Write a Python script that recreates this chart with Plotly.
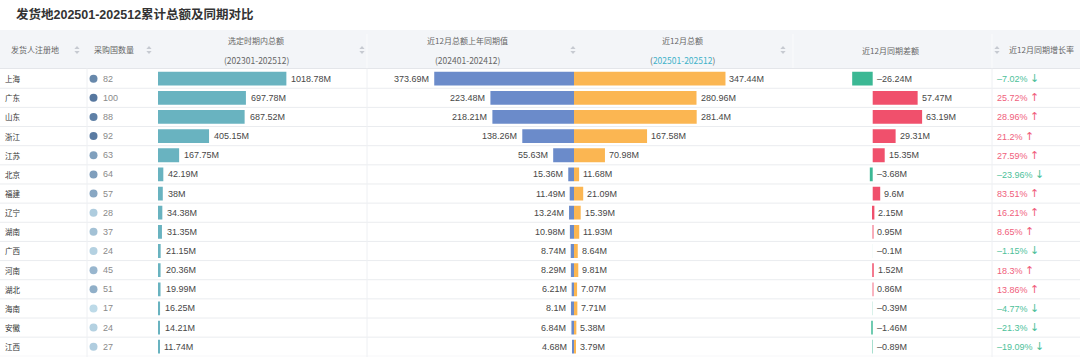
import plotly.graph_objects as go

W, H = 1080, 357

# ---------------- data ----------------
provinces = ["上海", "广东", "山东", "浙江", "江苏", "北京", "福建", "辽宁",
             "湖南", "广西", "河南", "湖北", "海南", "安徽", "江西"]
buyer_countries = [82, 100, 88, 92, 63, 64, 57, 28, 37, 24, 45, 51, 17, 24, 27]
total_selected = [1018.78, 697.78, 687.52, 405.15, 167.75, 42.19, 38, 34.38,
                  31.35, 21.15, 20.36, 19.99, 16.25, 14.21, 11.74]
prev_12m = [373.69, 223.48, 218.21, 138.26, 55.63, 15.36, 11.49, 13.24,
            10.98, 8.74, 8.29, 6.21, 8.1, 6.84, 4.68]
last_12m = [347.44, 280.96, 281.4, 167.58, 70.98, 11.68, 21.09, 15.39,
            11.93, 8.64, 9.81, 7.07, 7.71, 5.38, 3.79]
yoy_diff = [-26.24, 57.47, 63.19, 29.31, 15.35, -3.68, 9.6, 2.15,
            0.95, -0.1, 1.52, 0.86, -0.39, -1.46, -0.89]
yoy_growth = [-7.02, 25.72, 28.96, 21.2, 27.59, -23.96, 83.51, 16.21,
              8.65, -1.15, 18.3, 13.86, -4.77, -21.3, -19.09]

title_text = "发货地202501-202512累计总额及同期对比"
hdr_region = "发货人注册地"
hdr_count = "采购国数量"
hdr_total = ("选定时期内总额", "(202301-202512)")
hdr_prev = ("近12月总额上年同期值", "(202401-202412)")
hdr_last = ("近12月总额", "202501-202512")
hdr_diff = "近12月同期差额"
hdr_growth = "近12月同期增长率"

# ---------------- helpers ----------------
FONT = "Liberation Sans, Arial, Noto Sans CJK SC, sans-serif"
CJK = "Noto Sans CJK SC, Liberation Sans, sans-serif"


def PX(x):
    return x / W


def PY(y):
    return 1 - y / H


def fmt(v, unit=""):
    return f"{v:g}".replace("-", "–") + unit


ROW_TOP, ROW_BOT = 69.1, 356.3
HDR_TOP, HDR_BOT = 30.0, 68.5

TEAL = "#69b3c0"
BLUE = "#6b8bca"
ORANGE = "#fbb652"
RED = "#f0506c"
GREEN = "#3bb894"
LABEL = "#474747"


def blend(hex_color, f):
    h = hex_color.lstrip("#")
    r, g, b = int(h[0:2], 16), int(h[2:4], 16), int(h[4:6], 16)
    r = round(255 + (r - 255) * f)
    g = round(255 + (g - 255) * f)
    b = round(255 + (b - 255) * f)
    return f"rgb({r},{g},{b})"


fig = go.Figure()

# column axes: (left px, right px, range)
PPM_TOTAL = 0.126
PPM_PREV = 0.374
PPM_LAST = 0.436
PPM_DIFF = 0.782
DIFF_ZERO = 872.7
cols = {
    "xaxis": (0, 87, [0, 87]),
    "xaxis2": (87, 155, [0, 68]),
    "xaxis3": (158, 367, [0, (367 - 158) / PPM_TOTAL]),
    "xaxis4": (367, 574, [(574 - 367) / PPM_PREV, 0]),
    "xaxis5": (574, 790, [0, (790 - 574) / PPM_LAST]),
    "xaxis6": (793, 992, [-(DIFF_ZERO - 793) / PPM_DIFF, (992 - DIFF_ZERO) / PPM_DIFF]),
    "xaxis7": (992, 1080, [0, 88]),
}

# ---------------- traces ----------------
fig.add_trace(go.Scatter(
    x=[6.5] * len(provinces), y=provinces, xaxis="x2", yaxis="y",
    mode="markers",
    marker=dict(size=8, color=buyer_countries, cmin=17, cmax=95,
                colorscale=[[0, "#bddae8"], [1, "#56779f"]], line=dict(width=0)),
    hoverinfo="skip"))

fig.add_trace(go.Bar(x=total_selected, y=provinces, orientation="h",
                     xaxis="x3", yaxis="y", marker=dict(color=TEAL, line=dict(width=0)),
                     width=0.72, hoverinfo="skip"))
fig.add_trace(go.Bar(x=prev_12m, y=provinces, orientation="h",
                     xaxis="x4", yaxis="y", marker=dict(color=BLUE, line=dict(width=0)),
                     width=0.72, hoverinfo="skip"))
fig.add_trace(go.Bar(x=last_12m, y=provinces, orientation="h",
                     xaxis="x5", yaxis="y", marker=dict(color=ORANGE, line=dict(width=0)),
                     width=0.72, hoverinfo="skip"))
diff_colors = [blend(RED if v > 0 else GREEN, min(1.0, abs(v) / 2.0)) for v in yoy_diff]
fig.add_trace(go.Bar(x=yoy_diff, y=provinces, orientation="h",
                     xaxis="x6", yaxis="y", marker=dict(color=diff_colors, line=dict(width=0)),
                     width=0.72, hoverinfo="skip"))

# ---------------- value labels ----------------
ann = []
ARROW_UP = "<span style='font-family:DejaVu Sans;font-size:11px'>↑</span>"
ARROW_DN = "<span style='font-family:DejaVu Sans;font-size:11px'>↓</span>"
for i, p in enumerate(provinces):
    ann.append(dict(x=3, y=p, xref="x", yref="y", text=p, showarrow=False,
                    xanchor="left", font=dict(family=CJK, size=7.5, color="#333")))
    ann.append(dict(x=6.5, y=p, xref="x2", yref="y", text=str(buyer_countries[i]),
                    showarrow=False, xanchor="left", xshift=7,
                    font=dict(size=9, color="#8a8a8a")))
    ann.append(dict(x=total_selected[i], y=p, xref="x3", yref="y",
                    text=fmt(total_selected[i], "M"), showarrow=False,
                    xanchor="left", xshift=3, font=dict(size=9, color=LABEL)))
    ann.append(dict(x=prev_12m[i], y=p, xref="x4", yref="y",
                    text=fmt(prev_12m[i], "M"), showarrow=False,
                    xanchor="right", xshift=-3, font=dict(size=9, color=LABEL)))
    ann.append(dict(x=last_12m[i], y=p, xref="x5", yref="y",
                    text=fmt(last_12m[i], "M"), showarrow=False,
                    xanchor="left", xshift=2, font=dict(size=9, color=LABEL)))
    ann.append(dict(x=max(yoy_diff[i], 0), y=p, xref="x6", yref="y",
                    text=fmt(yoy_diff[i], "M"), showarrow=False,
                    xanchor="left", xshift=2, font=dict(size=9, color=LABEL)))
    g = yoy_growth[i]
    ann.append(dict(x=3, y=p, xref="x7", yref="y",
                    text=fmt(g, "%") + " " + (ARROW_UP if g > 0 else ARROW_DN), showarrow=False,
                    xanchor="left", font=dict(size=9, color="#f0607c" if g > 0 else "#4dbf9a")))

# ---------------- header texts ----------------
HC = "#666"


def htext(x, y, t, anchor="center", size=8, color=HC):
    ann.append(dict(x=PX(x), y=PY(y), xref="paper", yref="paper", text=t,
                    showarrow=False, xanchor=anchor, yanchor="middle",
                    font=dict(family=CJK, size=size, color=color)))


ann.append(dict(x=PX(14), y=PY(15), xref="paper", yref="paper", text="<b>" + title_text + "</b>",
                showarrow=False, xanchor="left", yanchor="middle",
                font=dict(family=FONT, size=12.5, color="#333")))
htext(9, 50, hdr_region, "left")
htext(92, 50, hdr_count, "left")
htext(256, 40, hdr_total[0])
htext(256, 60, hdr_total[1], size=8.5)
htext(467, 40, hdr_prev[0])
htext(467, 60, hdr_prev[1], size=8.5)
htext(682, 40, hdr_last[0])
htext(682, 60, "(<span style='color:#3fb2c9'>" + hdr_last[1] + "</span>)", size=8.5)
htext(890, 51, hdr_diff)
htext(1007, 50, hdr_growth, "left")

# ---------------- shapes ----------------
shapes = []
shapes.append(dict(type="rect", xref="paper", yref="paper", x0=0, x1=1,
                   y0=PY(HDR_BOT), y1=PY(HDR_TOP), fillcolor="#f3f5f8",
                   line=dict(width=0), layer="below"))
for xs in (367, 793, 992):
    shapes.append(dict(type="line", xref="paper", yref="paper", x0=PX(xs), x1=PX(xs),
                       y0=PY(HDR_BOT), y1=PY(HDR_TOP + 4), line=dict(color="#fafbfc", width=1),
                       layer="below"))
shapes.append(dict(type="line", xref="paper", yref="paper", x0=0, x1=1,
                   y0=PY(HDR_BOT), y1=PY(HDR_BOT), line=dict(color="#e4e6ea", width=1),
                   layer="below"))
for k in range(len(provinces)):
    shapes.append(dict(type="line", xref="paper", yref="y", x0=0, x1=1,
                       y0=k + 0.5, y1=k + 0.5, line=dict(color="#eaecef", width=1),
                       layer="below"))
for xs in (87, 367, 992):
    shapes.append(dict(type="line", xref="paper", yref="paper", x0=PX(xs), x1=PX(xs),
                       y0=0, y1=PY(HDR_BOT), line=dict(color="#eef0f3", width=1),
                       layer="below"))


def sort_icon(cx, cy):
    up = (f"M {PX(cx-2.6)} {PY(cy-1)} L {PX(cx+2.6)} {PY(cy-1)} "
          f"L {PX(cx)} {PY(cy-4)} Z")
    dn = (f"M {PX(cx-2.6)} {PY(cy+1)} L {PX(cx+2.6)} {PY(cy+1)} "
          f"L {PX(cx)} {PY(cy+4)} Z")
    for path in (up, dn):
        shapes.append(dict(type="path", xref="paper", yref="paper", path=path,
                           fillcolor="#c6cad1", line=dict(width=0)))


for cx in (77, 149, 362, 573, 783, 997):
    sort_icon(cx, 50)

# ---------------- layout ----------------
layout = dict(
    width=W, height=H, margin=dict(l=0, r=0, t=0, b=0),
    paper_bgcolor="white", plot_bgcolor="rgba(0,0,0,0)",
    showlegend=False, font=dict(family=FONT, size=9, color=LABEL),
    annotations=ann, shapes=shapes, barmode="overlay",
    yaxis=dict(type="category", categoryorder="array", categoryarray=provinces,
               range=[len(provinces) - 0.5, -0.5], domain=[PY(ROW_BOT), PY(ROW_TOP)],
               showgrid=False, zeroline=False, showticklabels=False, showline=False,
               fixedrange=True),
)
for name, (x0, x1, rng) in cols.items():
    layout[name] = dict(domain=[PX(x0), PX(x1)], range=rng, anchor="y",
                        showgrid=False, zeroline=False, showticklabels=False,
                        showline=False, ticks="", fixedrange=True)
fig.update_layout(**layout)

fig.write_html("out.html", config={"displayModeBar": False},
               post_script="document.body.style.margin='0';document.body.style.overflow='hidden';")
